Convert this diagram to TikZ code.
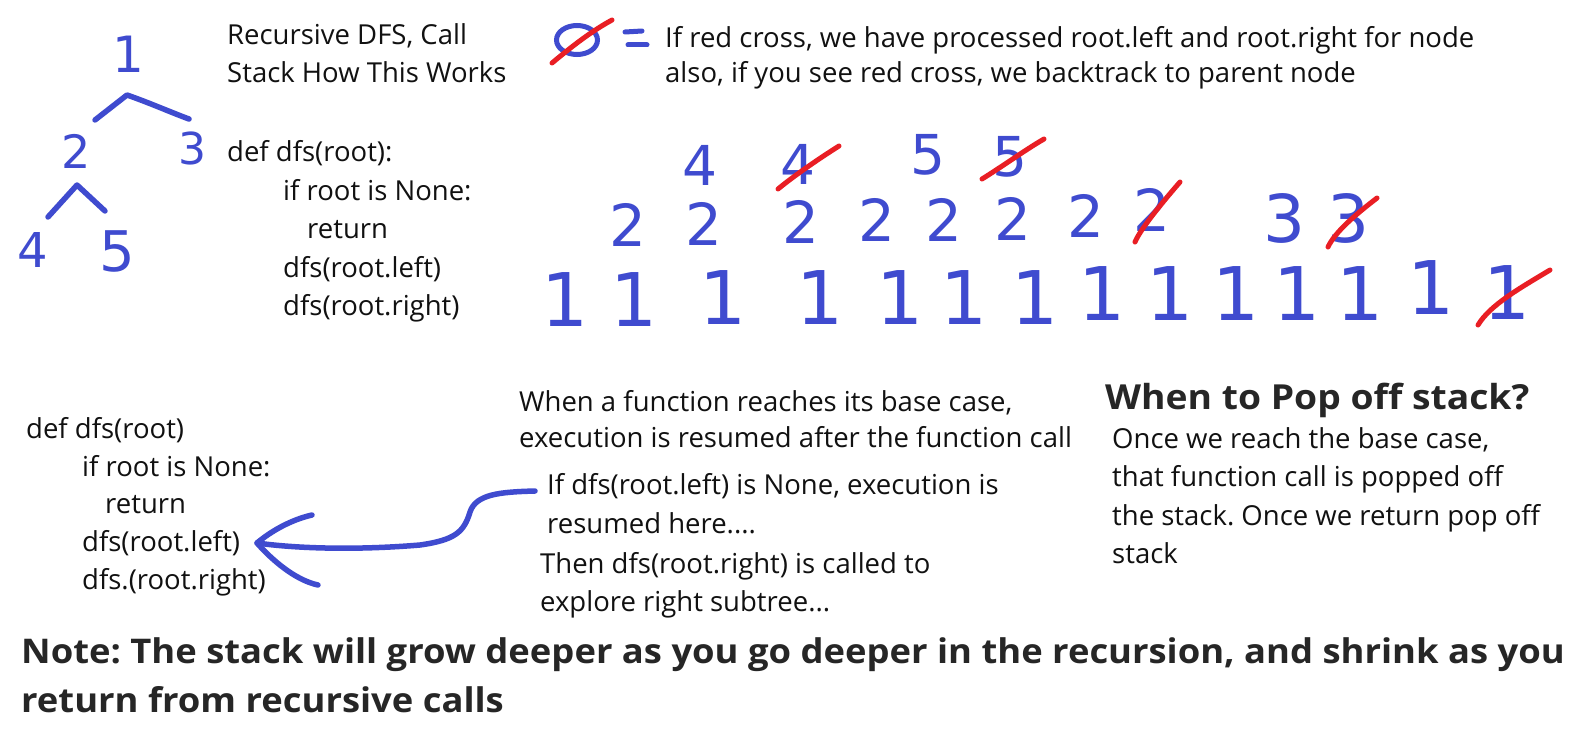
\documentclass[tikz,border=0pt]{standalone}
\usepackage{fontspec}
\usetikzlibrary{shapes.geometric}
\setmainfont{Open Sans}
\newfontfamily\digitfont{DejaVu Sans}
\newfontfamily\notefont[FakeStretch=1.07]{Open Sans}
\newfontfamily\headfont[FakeStretch=1.08]{Open Sans}
\definecolor{ink}{RGB}{63,75,207}
\definecolor{redink}{RGB}{233,30,36}
\definecolor{txt}{RGB}{17,17,17}
\definecolor{boldtxt}{RGB}{38,38,38}
\tikzset{
  body/.style={anchor=base west, inner sep=0pt, text=txt, font=\fontsize{27.5}{33}\selectfont},
  head/.style={anchor=base west, inner sep=0pt, text=boldtxt, font=\headfont\fontsize{34.5}{40}\selectfont\bfseries},
  note/.style={anchor=base west, inner sep=0pt, text=boldtxt, font=\notefont\fontsize{34}{40}\selectfont\bfseries},
  dig/.style={inner sep=0pt, text=ink, font=\digitfont\fontsize{#1}{#1}\selectfont},
  hand/.style={draw=ink, line width=5.5pt, line cap=round, line join=round},
  cross/.style={draw=redink, line width=5pt, line cap=round},
}
\begin{document}
\frenchspacing
\begin{tikzpicture}[x=1pt,y=-1pt]
\useasboundingbox[fill=white] (0,0) rectangle (1573,741);

% ---- tree ----
\node[dig=50] (t1) at (128,54) {1};
\node[dig=46] (t2) at (76,151) {2};
\node[dig=44] (t3) at (192,148) {3};
\node[dig=48] (t4) at (33,250) {4};
\node[dig=56] (t5) at (117,251) {5};
\coordinate (apexA) at (127,95);
\coordinate (legA) at (95,120);
\coordinate (legB) at (189,119);
\coordinate (apexB) at (77,185);
\coordinate (legC) at (48,217);
\coordinate (legD) at (105,211);
\draw[hand] (legA) -- (apexA) .. controls (150,103) and (170,112) .. (legB);
\draw[hand] (legC) -- (apexB) -- (legD);

% ---- top text ----
\node[body] (title1) at (227,45) {Recursive DFS, Call};
\node[body] (title2) at (227,83) {Stack How This Works};
\node[body] (c1) at (227,161) {def dfs(root):};
\node[body] (c2) at (283,200) {if root is None:};
\node[body] (c3) at (307,238) {return};
\node[body] (c4) at (283,277) {dfs(root.left)};
\node[body] (c5) at (283,315) {dfs(root.right)};

% ---- legend ----
\node[draw=ink, line width=5pt, ellipse, minimum width=41pt, minimum height=29pt, inner sep=0pt] (leg) at (577,40) {};
\coordinate (lcA) at (552,63);
\coordinate (lcB) at (612,20);
\draw[cross] (lcA) .. controls (570,48) and (590,32) .. (lcB);
\coordinate (eqA) at (625,32);
\coordinate (eqB) at (642,31);
\coordinate (eqC) at (628,45);
\coordinate (eqD) at (647,45);
\draw[hand, line width=5pt] (eqA) -- (eqB);
\draw[hand, line width=5pt] (eqC) -- (eqD);
\node[body] (l1) at (665,48) {If red cross, we have processed root.left and root.right for node};
\node[body] (l2) at (665,83) {also, if you see red cross, we backtrack to parent node};

% ---- stack: row 3 ----
\node[dig=55] (s4a) at (700,165) {4};
\node[dig=55] (s4b) at (798,164) {4};
\node[dig=55] (s5a) at (928,155) {5};
\node[dig=55] (s5b) at (1010,157) {5};
% row 2
\node[dig=58] (s2a) at (628,225) {2};
\node[dig=58] (s2b) at (704,224) {2};
\node[dig=58] (s2c) at (801,222) {2};
\node[dig=58] (s2d) at (877,220) {2};
\node[dig=58] (s2e) at (944,220) {2};
\node[dig=58] (s2f) at (1013,219) {2};
\node[dig=58] (s2g) at (1086,216) {2};
\node[dig=58] (s2h) at (1152,210) {2};
\node[dig=66] (s3a) at (1284,218) {3};
\node[dig=66] (s3b) at (1348,218) {3};
% row 1
\foreach \x/\y [count=\i] in {565/300,634/300,723/298,820/298,900/298,964/298,1035/298,1102/294,1170/294,1236/294,1297/294,1360/294,1431/288,1507/293}
  \node[dig=74] (s1-\i) at (\x,\y) {1};

% ---- red crosses ----
\draw[cross] (778,189) .. controls (795,175) and (820,158) .. (839,146);
\draw[cross] (982,179) .. controls (1000,168) and (1025,150) .. (1044,139);
\draw[cross] (1135,242) .. controls (1140,230) and (1160,205) .. (1180,182);
\draw[cross] (1328,247) .. controls (1335,232) and (1355,215) .. (1377,198);
\draw[cross] (1478,325) .. controls (1490,305) and (1520,288) .. (1550,270);

% ---- bottom left code ----
\node[body] (b1) at (26,438) {def dfs(root)};
\node[body] (b2) at (82,476) {if root is None:};
\node[body] (b3) at (105,513) {return};
\node[body] (b4) at (82,551) {dfs(root.left)};
\node[body] (b5) at (82,589) {dfs.(root.right)};

% ---- middle text ----
\node[body] (m1) at (519,411) {When a function reaches its base case,};
\node[body] (m2) at (519,447) {execution is resumed after the function call};
\node[body] (m3) at (547,494) {If dfs(root.left) is None, execution is};
\node[body] (m4) at (547,533) {resumed here....};
\node[body] (m5) at (540,573) {Then dfs(root.right) is called to};
\node[body] (m6) at (540,611) {explore right subtree...};

% ---- arrow ----
\coordinate (arrS) at (535,491);
\coordinate (arrT) at (257,543);
\draw[hand] (arrS) .. controls (500,492) and (476,494) .. (470,512)
  .. controls (464,532) and (455,540) .. (420,545)
  .. controls (360,550) and (300,549) .. (arrT);
\draw[hand] (312,515) .. controls (290,520) and (270,532) .. (arrT)
  .. controls (272,560) and (295,580) .. (318,585);

% ---- right text ----
\node[head] (h1) at (1105,409) {When to Pop off stack?};
\node[body] (r1) at (1112,448) {Once we reach the base case,};
\node[body] (r2) at (1112,486) {that function call is popped off};
\node[body] (r3) at (1112,525) {the stack. Once we return pop off};
\node[body] (r4) at (1112,563) {stack};

% ---- note ----
\node[note] (n1) at (21,663) {Note: The stack will grow deeper as you go deeper in the recursion, and shrink as you};
\node[note] (n2) at (21,712) {return from recursive calls};
\end{tikzpicture}
\end{document}
